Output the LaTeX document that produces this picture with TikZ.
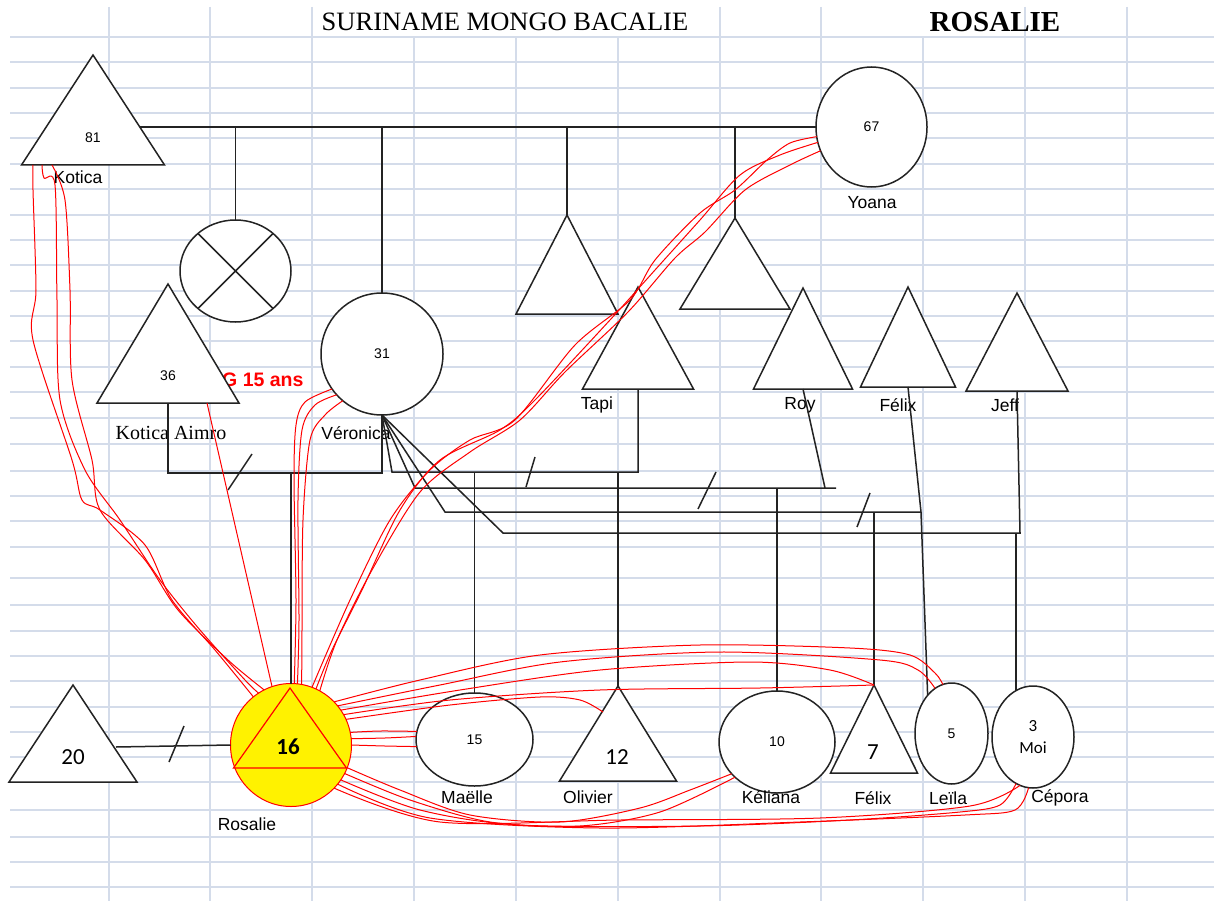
\documentclass[tikz,border=0pt]{standalone}
\usepackage{fontspec}
\setmainfont{Liberation Sans}
\newfontfamily\timesfont{Liberation Serif}
\newfontfamily\calfont{Carlito}
\usetikzlibrary{shapes.geometric,calc}
\definecolor{cellline}{RGB}{212,220,234}
\definecolor{ink}{RGB}{35,35,35}

\begin{document}
\begin{tikzpicture}
[
x=1pt, y=-1pt,
man/.style={isosceles triangle, isosceles triangle stretches, shape border rotate=90, anchor=apex, draw=ink, line width=1.5pt, fill=white, inner sep=0pt, outer sep=0pt},
woman/.style={ellipse, draw=ink, line width=1.5pt, fill=white, inner sep=0pt, outer sep=0pt, font=\fontsize{14}{16}\selectfont},
age/.style={font=\fontsize{14}{16}\selectfont, inner sep=0pt},
bigage/.style={font=\calfont\fontsize{23}{25}\selectfont, inner sep=0pt},
who/.style={font=\fontsize{17.5}{19}\selectfont, inner sep=0pt},
bond/.style={draw=ink, line width=1.5pt},
feel/.style={draw=red, line width=1pt, line join=round},
cell/.style={draw=cellline, line width=1.2pt}
]

\useasboundingbox (0,0) rectangle (1214,901);
\fill[white] (0,0) rectangle (1214,901);
\foreach \y in {37,62,88,113,138,164,189,215,240,265,291,316,341,367,392,418,444,471,496,521,547,578,605,631,656,681,707,732,757,782,810,837,862,887}
  \draw[cell] (10,\y) -- (1214,\y);
\foreach \x in {109,210,312,720,821,1025,1127}
  \draw[cell] (\x,7) -- (\x,901);
\foreach \x in {414,516,618,923}
  \draw[cell] (\x,37) -- (\x,901);

\node[font=\timesfont\fontsize{26.5}{28}\selectfont] (title) at (505,22) {SURINAME MONGO BACALIE};
\node[font=\timesfont\bfseries\fontsize{29}{30}\selectfont] (subject) at (995,22) {ROSALIE};

% grands-parents
\node[man, minimum width=143pt, minimum height=110pt] (kot) at (93,55) {};
\node[age] (kot-n) at (93,138) {81};
\node[who] (kot-l) at (78,177) {Kotica};
\node[woman, minimum width=111pt, minimum height=120pt] (yoa) at (871.5,127) {67};
\node[who] (yoa-l) at (872,203) {Yoana};

% enfants
\node[woman, minimum width=111pt, minimum height=102pt] (lost) at (235.5,271) {};
\draw[bond] (lost.45) -- (lost.225) (lost.135) -- (lost.315);
\node[font=\bfseries\fontsize{19.5}{21}\selectfont, text=red, inner sep=0pt, anchor=west] (aim-g) at (222,380) {G 15 ans};
\node[man, minimum width=142pt, minimum height=119pt] (aim) at (168,284) {};
\node[age] (aim-n) at (168,376) {36};
\node[font=\timesfont\fontsize{20}{22}\selectfont, inner sep=0pt] (aim-l) at (171,433) {Kotica Aimro};
\node[woman, minimum width=122pt, minimum height=122pt] (ver) at (382,354) {31};
\node[who] (ver-l) at (356,433) {Véronica};
\node[man, minimum width=102pt, minimum height=99pt] (son1) at (567,215) {};
\node[man, minimum width=110pt, minimum height=91pt] (son2) at (735,218) {};

% conjoints
\node[man, minimum width=111pt, minimum height=102pt] (tap) at (638,287) {};
\node[who] (tap-l) at (597,405) {Tapi};
\node[man, minimum width=99pt, minimum height=101pt] (roy) at (803,288) {};
\node[who] (roy-l) at (800,405) {Roy};
\node[man, minimum width=95pt, minimum height=100pt] (fel) at (908,287) {};
\node[who] (fel-l) at (898,405) {Félix};
\node[man, minimum width=102pt, minimum height=98pt] (jef) at (1017,293) {};
\node[who] (jef-l) at (1005,405) {Jeff};

% fratrie
\node[man, minimum width=128pt, minimum height=97pt] (ex) at (73,685) {};
\node[bigage] (ex-n) at (73,757) {20};
\node[ellipse, draw=red, fill=yellow, line width=1pt, inner sep=0pt, outer sep=0pt, minimum width=121pt, minimum height=123pt] (ros) at (291,745) {};
\node[man, draw=red, fill=none, line width=1.2pt, minimum width=113pt, minimum height=80pt] (ros-t) at (290,688) {};
\node[bigage, font=\calfont\bfseries\fontsize{23}{25}\selectfont] (ros-n) at (288,747) {16};
\node[who] (ros-l) at (247,824) {Rosalie};
\node[woman, minimum width=117pt, minimum height=93pt] (mae) at (474.5,739.5) {15};
\node[who] (mae-l) at (467,797) {Maëlle};
\node[man, minimum width=117pt, minimum height=95pt] (oli) at (618,686) {};
\node[bigage] (oli-n) at (617,757) {12};
\node[who] (oli-l) at (588,797) {Olivier};
\node[woman, minimum width=116pt, minimum height=102pt] (kel) at (777,742) {10};
\node[who] (kel-l) at (771,797) {Kéliana};
\node[man, minimum width=87pt, minimum height=88pt] (fel2) at (874,685) {};
\node[bigage] (fel2-n) at (873,752) {7};
\node[who] (fel2-l) at (873,798) {Félix};
\node[woman, minimum width=73pt, minimum height=101pt] (lei) at (951.5,733.5) {5};
\node[who] (lei-l) at (948,798) {Leïla};
\node[woman, minimum width=82pt, minimum height=102pt, font=\calfont\fontsize{17}{22}\selectfont, align=center] (cep) at (1033,737) {3\\Moi};
\node[who] (cep-l) at (1060,798) {Cépora};

% liens
\coordinate (bar) at (140,127);
\draw[bond] (bar) -- (yoa.west);
\draw[bond] (lost.north) -- (lost.north |- yoa.west);
\draw[bond] (ver.north) -- (ver.north |- yoa.west);
\draw[bond] (son1.apex) -- (son1.apex |- yoa.west);
\draw[bond] (son2.apex) -- (son2.apex |- yoa.west);

\draw[bond] (aim.south) -- ++(0,70) coordinate (ab) -| (ver.south);
\draw[bond] (228,490) -- (252,454);
\draw[bond] (ros.north) -- (ros.north |- ab);

\coordinate (vt) at (392,472);
\coordinate (vr) at (415,488);
\coordinate (vf) at (445,512);
\coordinate (vj) at (503,533);
\coordinate (rj) at (825,488);
\coordinate (fj) at (921,512);
\coordinate (jj) at (1020,533);
\draw[bond] (ver.south) -- (vt) -| (tap.south);
\draw[bond] (526,487) -- (535,457);
\draw[bond] (ver.south) -- (vr) -- ([xshift=11pt]rj);
\draw[bond] (roy.south) -- (rj);
\draw[bond] (698,509) -- (716,472);
\draw[bond] (ver.south) -- (vf) -- (fj);
\draw[bond] (fel.south) -- (fj) -- (lei.122);
\draw[bond] (857,527) -- (870,493);
\draw[bond] (ver.south) -- (vj) -- (jj) -- (jef.south);

\draw[bond] (mae.north) -- (mae.north |- vt);
\draw[bond] (oli.apex) -- (oli.apex |- vt);
\draw[bond] (kel.north) -- (kel.north |- vr);
\draw[bond] (fel2.apex) -- (fel2.apex |- vf);
\draw[bond] (cep.110) -- (cep.110 |- vj);

\coordinate (ex-side) at (116,747);
\draw[bond] (ex-side) -- (ros.west);
\draw[bond] (169,762) -- (184,726);

% relations
\coordinate (k1) at ($(kot.south)+(-60,0)$);
\coordinate (k2) at ($(kot.south)+(-51,0)$);
\coordinate (k3) at ($(kot.south)+(-41,0)$);
\draw[feel] plot[smooth, tension=0.5] coordinates {(k1) (33,190) (36,290) (33,340) (72,460) (82,500) (100,510) (145,545) (172,600) (215,650) (ros.128)};
\draw[feel] plot[smooth, tension=0.5] coordinates {(k2) (44,178) (55,185) (57,300) (60,400) (85,470) (120,520) (160,580) (200,630) (245,680) (ros.122)};
\draw[feel] plot[smooth, tension=0.5] coordinates {(k3) (65,200) (70,290) (72,380) (92,460) (100,510) (145,560) (178,610) (228,660) (ros.116)};
\draw[feel] ($(aim.south)+(39,0)$) -- (ros.108);

\draw[feel] plot[smooth, tension=0.5] coordinates {(ver.215) (305,402) (296,425) (294,480) (296,600) (ros.87)};
\draw[feel] plot[smooth, tension=0.5] coordinates {(ver.222) (315,405) (302,430) (298,500) (299,620) (ros.84)};
\draw[feel] plot[smooth, tension=0.5] coordinates {(ver.230) (325,415) (310,440) (303,520) (302,630) (ros.80)};

\draw[feel] plot[smooth, tension=0.5] coordinates {(yoa.190) (790,143) (767,160) (735,190) (700,213) (655,260) (630,300) (575,345) (515,420) (470,440) (430,470) (390,520) (350,600) (ros.70)};
\draw[feel] plot[smooth, tension=0.5] coordinates {(yoa.196) (780,155) (740,175) (700,220) (655,270) (610,320) (535,400) (500,430) (440,460) (400,510) (362,590) (332,650) (ros.66)};
\draw[feel] plot[smooth, tension=0.5] coordinates {(yoa.205) (790,165) (745,190) (705,232) (675,258) (628,312) (565,372) (520,420) (470,452) (420,492) (372,570) (337,640) (ros.62)};

\coordinate (oli-side) at (603,712);
\draw[feel] plot[smooth, tension=0.5] coordinates {(ros.45) (420,680) (540,655) (700,645) (850,648) (910,655) (935,673) (lei.100)};
\draw[feel] plot[smooth, tension=0.5] coordinates {(ros.40) (440,685) (560,662) (720,652) (880,660) (918,670) (lei.110)};
\draw[feel] plot[smooth, tension=0.5] coordinates {(ros.35) (460,690) (600,670) (750,662) (830,670) (fel2.apex)};
\draw[feel] plot[smooth, tension=0.5] coordinates {(ros.30) (450,700) (600,690) (760,688) (fel2.apex)};
\draw[feel] plot[smooth, tension=0.5] coordinates {(ros.25) (450,705) (540,697) (580,700) (oli-side)};

\draw[feel] plot[smooth, tension=0.5] coordinates {(ros.12) (380,731) (mae.172)};
\draw[feel] plot[smooth, tension=0.5] coordinates {(ros.6) (385,738) (mae.177)};
\draw[feel] plot[smooth, tension=0.5] coordinates {(ros.0) (385,746) (mae.187)};

\draw[feel] plot[smooth, tension=0.5] coordinates {(ros.-22) (400,790) (470,815) (560,822) (640,808) (690,790) (kel.215)};
\draw[feel] plot[smooth, tension=0.5] coordinates {(ros.-28) (410,800) (490,822) (580,826) (660,812) (kel.220)};
\draw[feel] plot[smooth, tension=0.5] coordinates {(ros.-35) (420,810) (520,825) (700,826) (850,820) (960,812) (1000,805) (cep.250)};
\draw[feel] plot[smooth, tension=0.5] coordinates {(ros.-40) (430,818) (600,828) (800,822) (965,815) (1015,810) (cep.265)};
\draw[feel] plot[smooth, tension=0.5] coordinates {(ros.-45) (440,822) (620,820) (820,818) (970,806) (cep.255)};
\end{tikzpicture}
\end{document}
